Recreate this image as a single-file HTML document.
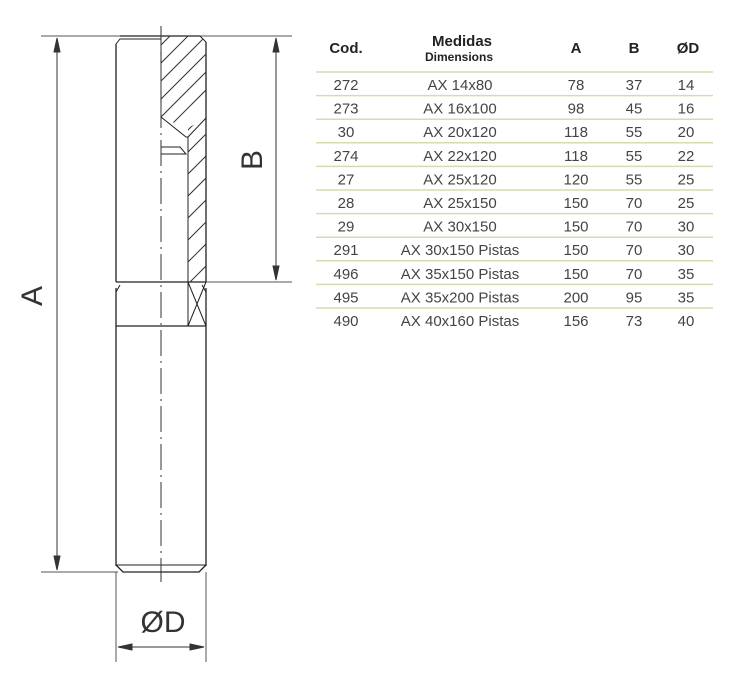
<!DOCTYPE html>
<html><head><style>
html,body{margin:0;padding:0;background:#fff;}
svg{display:block;}
text{font-family:"Liberation Sans",sans-serif;}
</style></head><body>
<svg width="738" height="689" viewBox="0 0 738 689" xmlns="http://www.w3.org/2000/svg">
<defs>
<clipPath id="h1"><polygon points="161,36 200,36 206,42 206,118 188,128 161,118"/></clipPath>
<clipPath id="h2"><polygon points="188,128 206,118 206,282 188,282"/></clipPath>
</defs>
<g stroke="#333" fill="none" stroke-width="1">
<!-- extension lines -->
<line x1="41" y1="36" x2="292" y2="36" stroke="#555"/>
<line x1="41" y1="572" x2="118" y2="572" stroke="#555"/>
<line x1="206" y1="282" x2="292" y2="282" stroke="#555"/>
<line x1="116" y1="572" x2="116" y2="662" stroke="#555"/>
<line x1="206" y1="572" x2="206" y2="662" stroke="#555"/>
<!-- A dimension -->
<line x1="57" y1="40" x2="57" y2="568"/>
<polygon points="57,38 54,52 60,52" fill="#333"/>
<polygon points="57,570 54,556 60,556" fill="#333"/>
<!-- B dimension -->
<line x1="276" y1="40" x2="276" y2="278"/>
<polygon points="276,38 273,52 279,52" fill="#333"/>
<polygon points="276,280 273,266 279,266" fill="#333"/>
<!-- D dimension -->
<line x1="120" y1="647" x2="202" y2="647"/>
<polygon points="118,647 132,644 132,650" fill="#333"/>
<polygon points="204,647 190,644 190,650" fill="#333"/>
<!-- body -->
<path d="M116,44 L116,282 M206,42 L206,282 M120,36 L200,36" stroke="#222" stroke-width="1.3"/>
<path d="M116,44 L120,39 L161,39" stroke="#222"/>
<line x1="200" y1="36" x2="206" y2="42" stroke="#222"/>
<line x1="116" y1="282" x2="206" y2="282" stroke="#222" stroke-width="1.2"/>
<path d="M116,292 L120,285 M206,292 L202,285" stroke="#222"/>
<line x1="116" y1="288" x2="116" y2="566" stroke="#222" stroke-width="1.3"/>
<line x1="206" y1="288" x2="206" y2="566" stroke="#222" stroke-width="1.3"/>
<line x1="116" y1="326" x2="206" y2="326" stroke="#222" stroke-width="1.2"/>
<line x1="116" y1="565" x2="206" y2="565" stroke="#222"/>
<path d="M116,565 L123,572 L199,572 L206,565" stroke="#222" stroke-width="1.3"/>
<!-- inner profile -->
<line x1="161" y1="39" x2="161" y2="118" stroke="#222"/>
<path d="M161,117 L186,137 L188,137 L188,326" stroke="#222"/>
<path d="M161,147 L180,147 L186,154 L161,154" stroke="#222"/>
<line x1="206" y1="118" x2="188" y2="137" stroke="#222"/>
<!-- X box -->
<line x1="188" y1="282" x2="206" y2="326" stroke="#222"/>
<line x1="206" y1="282" x2="188" y2="326" stroke="#222"/>
<!-- hatching -->
<g clip-path="url(#h1)" stroke="#333">
<line x1="130" y1="130" x2="230" y2="30"/><line x1="130" y1="112" x2="230" y2="12"/>
<line x1="130" y1="94" x2="230" y2="-6"/><line x1="130" y1="76" x2="230" y2="-24"/>
<line x1="130" y1="148" x2="230" y2="48"/><line x1="130" y1="166" x2="230" y2="66"/>
</g>
<g clip-path="url(#h2)" stroke="#333">
<line x1="180" y1="160" x2="230" y2="110"/><line x1="180" y1="182" x2="230" y2="132"/>
<line x1="180" y1="204" x2="230" y2="154"/><line x1="180" y1="226" x2="230" y2="176"/>
<line x1="180" y1="248" x2="230" y2="198"/><line x1="180" y1="270" x2="230" y2="220"/>
<line x1="180" y1="292" x2="230" y2="242"/><line x1="180" y1="138" x2="230" y2="88"/>
</g>
<!-- centre line -->
<line x1="161" y1="26" x2="161" y2="582" stroke="#333" stroke-dasharray="26,5,2,5"/>
</g>
<text x="0" y="0" font-size="30" fill="#333" text-anchor="middle" transform="translate(42,296) rotate(-90)">A</text>
<text x="0" y="0" font-size="30" fill="#333" text-anchor="middle" transform="translate(262,160) rotate(-90)">B</text>
<text x="163" y="632" font-size="30" fill="#333" text-anchor="middle">ØD</text>
<!-- table -->
<g font-size="15" fill="#222" font-weight="bold" text-anchor="middle">
<text x="346" y="53">Cod.</text>
<text x="462" y="46">Medidas</text>
<text x="459" y="61" font-size="12">Dimensions</text>
<text x="576" y="53">A</text>
<text x="634" y="53">B</text>
<text x="688" y="53">ØD</text>
</g>
<g stroke="#d6dbb0" stroke-width="1.5">
<line x1="316" y1="72" x2="713" y2="72"/><line x1="316" y1="95.6" x2="713" y2="95.6"/>
<line x1="316" y1="119.2" x2="713" y2="119.2"/><line x1="316" y1="142.8" x2="713" y2="142.8"/>
<line x1="316" y1="166.4" x2="713" y2="166.4"/><line x1="316" y1="190" x2="713" y2="190"/>
<line x1="316" y1="213.6" x2="713" y2="213.6"/><line x1="316" y1="237.2" x2="713" y2="237.2"/>
<line x1="316" y1="260.8" x2="713" y2="260.8"/><line x1="316" y1="284.4" x2="713" y2="284.4"/>
<line x1="316" y1="308" x2="713" y2="308"/>
</g>
<g font-size="15" fill="#444" text-anchor="middle">
<text x="346" y="90">272</text><text x="460" y="90">AX 14x80</text><text x="576" y="90">78</text><text x="634" y="90">37</text><text x="686" y="90">14</text>
<text x="346" y="113.6">273</text><text x="460" y="113.6">AX 16x100</text><text x="576" y="113.6">98</text><text x="634" y="113.6">45</text><text x="686" y="113.6">16</text>
<text x="346" y="137.2">30</text><text x="460" y="137.2">AX 20x120</text><text x="576" y="137.2">118</text><text x="634" y="137.2">55</text><text x="686" y="137.2">20</text>
<text x="346" y="160.8">274</text><text x="460" y="160.8">AX 22x120</text><text x="576" y="160.8">118</text><text x="634" y="160.8">55</text><text x="686" y="160.8">22</text>
<text x="346" y="184.4">27</text><text x="460" y="184.4">AX 25x120</text><text x="576" y="184.4">120</text><text x="634" y="184.4">55</text><text x="686" y="184.4">25</text>
<text x="346" y="208">28</text><text x="460" y="208">AX 25x150</text><text x="576" y="208">150</text><text x="634" y="208">70</text><text x="686" y="208">25</text>
<text x="346" y="231.6">29</text><text x="460" y="231.6">AX 30x150</text><text x="576" y="231.6">150</text><text x="634" y="231.6">70</text><text x="686" y="231.6">30</text>
<text x="346" y="255.2">291</text><text x="460" y="255.2">AX 30x150 Pistas</text><text x="576" y="255.2">150</text><text x="634" y="255.2">70</text><text x="686" y="255.2">30</text>
<text x="346" y="278.8">496</text><text x="460" y="278.8">AX 35x150 Pistas</text><text x="576" y="278.8">150</text><text x="634" y="278.8">70</text><text x="686" y="278.8">35</text>
<text x="346" y="302.4">495</text><text x="460" y="302.4">AX 35x200 Pistas</text><text x="576" y="302.4">200</text><text x="634" y="302.4">95</text><text x="686" y="302.4">35</text>
<text x="346" y="326">490</text><text x="460" y="326">AX 40x160 Pistas</text><text x="576" y="326">156</text><text x="634" y="326">73</text><text x="686" y="326">40</text>
</g>
</svg>
</body></html>
